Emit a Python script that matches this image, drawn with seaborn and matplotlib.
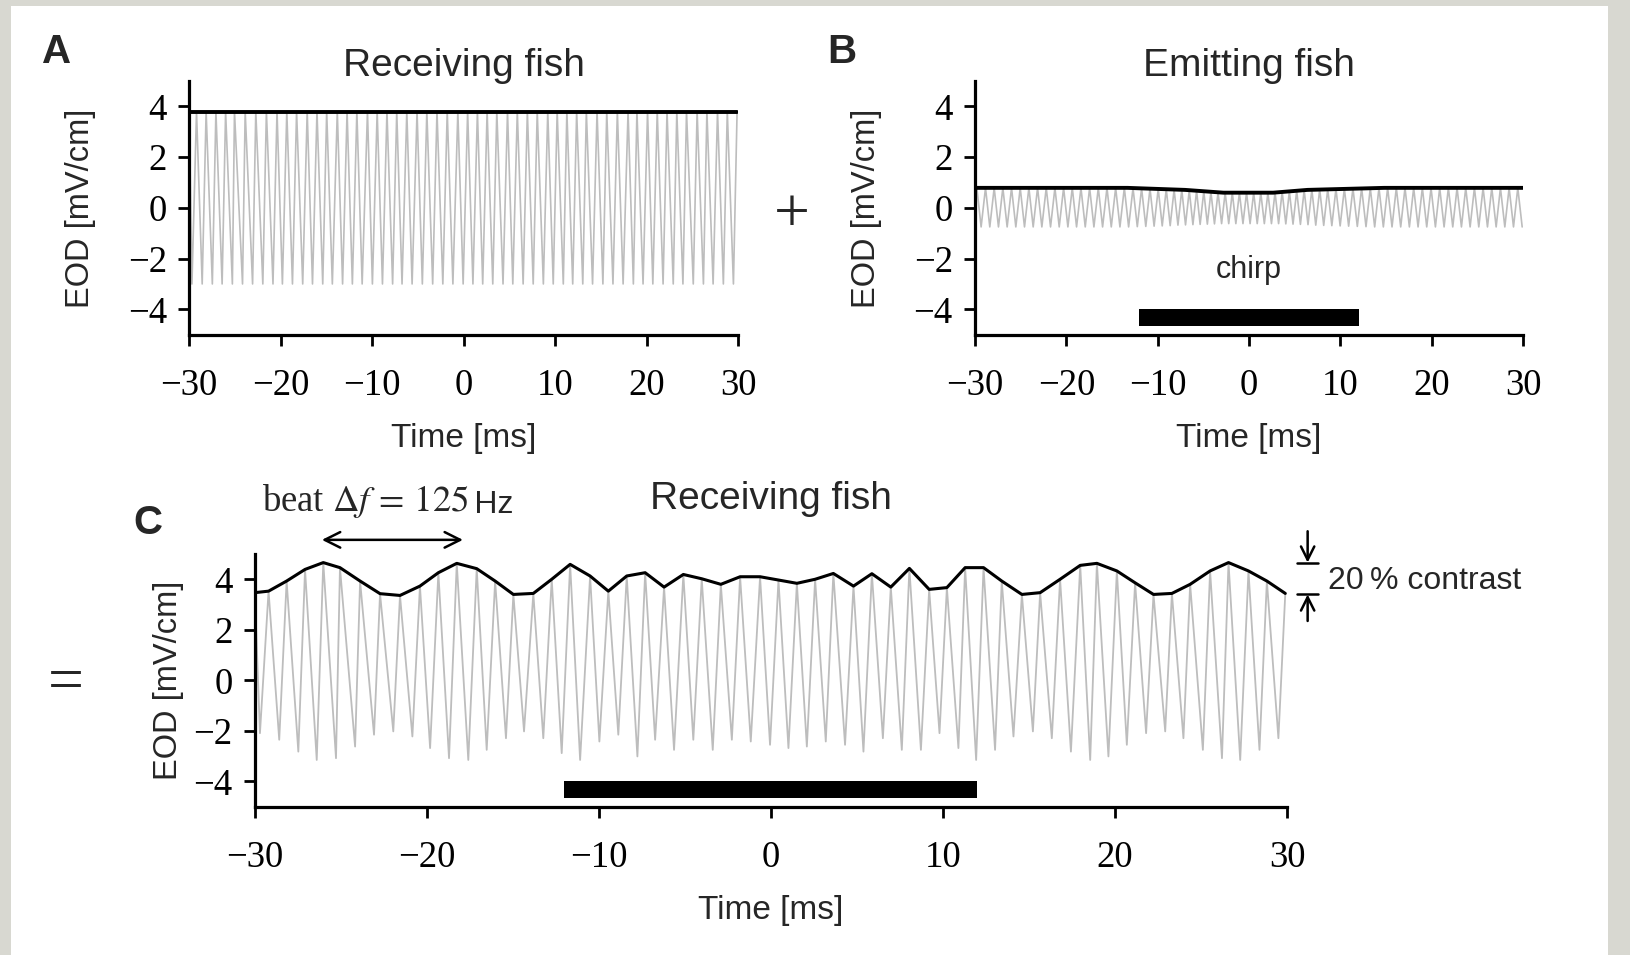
import numpy as np
import pandas as pd
import matplotlib
matplotlib.use("Agg")
import matplotlib.pyplot as plt
import seaborn as sns
from matplotlib.patches import Rectangle

# ------------------------------------------------------------------ data
# receiving fish EOD: times of the maxima and minima (ms)
recv_peak_t = [-30.0, -29.2, -28.15, -27.08, -26.02, -25.05, -23.88, -22.72, -21.56, -20.40,
               -19.33, -18.26, -17.10, -16.03, -14.97, -13.81, -12.74, -11.67, -10.51, -9.45,
               -8.38, -7.31, -6.21, -5.09, -4.02, -2.91, -1.79, -0.63, 0.44, 1.51,
               2.57, 3.63, 4.80, 5.87, 6.97, 8.05, 9.20, 10.23, 11.29, 12.36,
               13.42, 14.59, 15.65, 16.81, 17.98, 18.95, 20.11, 21.17, 22.24, 23.31,
               24.37, 25.53, 26.60, 27.76, 28.83, 29.90]
recv_trough_t = [-29.70, -28.58, -27.47, -26.40, -25.28, -24.17, -23.07, -21.95, -20.84, -19.81,
                 -18.71, -17.59, -16.52, -15.40, -14.35, -13.23, -12.16, -11.09, -9.97,
                 -8.87, -7.76, -6.73, -5.63, -4.51, -3.38, -2.27, -1.17, -0.05, 1.02,
                 2.09, 3.19, 4.31, 5.38, 6.51, 7.61, 8.72, 9.80, 10.90,
                 11.93, 13.03, 14.10, 15.23, 16.33, 17.44, 18.56, 19.62, 20.69, 21.81,
                 22.92, 23.98, 25.11, 26.22, 27.28, 28.40, 29.50]

# panel A: receiving fish alone (mV/cm)
a_peak_v = 3.8
a_trough_v = -3.0

# panel C: superposition, maxima (black envelope) and minima (mV/cm)
c_peak_v = [3.47, 3.53, 3.93, 4.39, 4.66, 4.46, 3.93, 3.43, 3.36, 3.73,
            4.26, 4.63, 4.42, 3.93, 3.40, 3.44, 4.00, 4.59, 4.13, 3.53,
            4.13, 4.26, 3.69, 4.19, 4.02, 3.80, 4.10, 4.10, 3.97, 3.84,
            4.00, 4.23, 3.73, 4.22, 3.69, 4.43, 3.60, 3.67, 4.46, 4.46,
            3.93, 3.40, 3.47, 4.00, 4.55, 4.63, 4.33, 3.86, 3.40, 3.44,
            3.80, 4.33, 4.66, 4.33, 3.93, 3.44]
c_trough_v = [-2.09, -2.35, -2.82, -3.15, -3.08, -2.62, -2.15, -2.02, -2.22, -2.68,
              -3.08, -3.15, -2.75, -2.29, -2.02, -2.29, -2.88, -3.15, -2.42,
              -2.15, -3.01, -2.35, -2.75, -2.35, -2.75, -2.35, -2.42, -2.55, -2.68,
              -2.62, -2.42, -2.55, -2.82, -2.29, -2.75, -2.75, -2.09, -2.68,
              -3.15, -2.75, -2.22, -2.02, -2.29, -2.82, -3.15, -3.01, -2.55, -2.09,
              -2.02, -2.29, -2.75, -3.08, -3.15, -2.75, -2.29]

# panel B: emitting fish with chirp
emit_peak_t = [-29.8, -28.85, -27.9, -26.95, -26.0, -25.05, -24.1, -23.15, -22.2, -21.25,
               -20.3, -19.35, -18.4, -17.45, -16.5, -15.55, -14.6, -13.65, -12.7, -11.76,
               -10.84, -9.94, -9.06, -8.20, -7.36, -6.54, -5.74, -4.95, -4.17, -3.39,
               -2.61, -1.83, -1.05, -0.27, 0.51, 1.29, 2.07, 2.85, 3.63, 4.42,
               5.22, 6.04, 6.88, 7.74, 8.62, 9.52, 10.44, 11.38, 12.33, 13.28,
               14.23, 15.18, 16.13, 17.08, 18.03, 18.98, 19.93, 20.88, 21.83, 22.78,
               23.73, 24.68, 25.63, 26.58, 27.53, 28.48, 29.43]
emit_peak_v = [0.79, 0.79, 0.79, 0.79, 0.79, 0.79, 0.79, 0.79, 0.79, 0.79,
               0.79, 0.79, 0.79, 0.79, 0.79, 0.79, 0.79, 0.79, 0.78, 0.77,
               0.76, 0.75, 0.74, 0.72, 0.71, 0.69, 0.67, 0.65, 0.63, 0.61,
               0.60, 0.60, 0.60, 0.60, 0.60, 0.60, 0.60, 0.61, 0.63, 0.65,
               0.67, 0.70, 0.72, 0.73, 0.74, 0.75, 0.76, 0.77, 0.78, 0.78,
               0.79, 0.79, 0.79, 0.79, 0.79, 0.79, 0.79, 0.79, 0.79, 0.79,
               0.79, 0.79, 0.79, 0.79, 0.79, 0.79, 0.79]
emit_trough_t = [-29.33, -28.38, -27.43, -26.48, -25.53, -24.58, -23.63, -22.68, -21.73, -20.78,
                 -19.83, -18.88, -17.93, -16.98, -16.03, -15.08, -14.13, -13.18, -12.23, -11.30,
                 -10.39, -9.50, -8.63, -7.78, -6.95, -6.14, -5.35, -4.56, -3.78, -3.00,
                 -2.22, -1.44, -0.66, 0.12, 0.90, 1.68, 2.46, 3.24, 4.03, 4.82,
                 5.63, 6.46, 7.31, 8.18, 9.07, 9.98, 10.91, 11.86, 12.81, 13.76,
                 14.71, 15.66, 16.61, 17.56, 18.51, 19.46, 20.41, 21.36, 22.31, 23.26,
                 24.21, 25.16, 26.11, 27.06, 28.01, 28.96, 29.91]
emit_trough_v = [-0.75, -0.75, -0.75, -0.75, -0.75, -0.75, -0.75, -0.75, -0.75, -0.75,
                 -0.75, -0.75, -0.75, -0.75, -0.75, -0.75, -0.75, -0.75, -0.74, -0.73,
                 -0.72, -0.71, -0.70, -0.68, -0.67, -0.66, -0.65, -0.64, -0.63, -0.62,
                 -0.62, -0.62, -0.62, -0.62, -0.62, -0.62, -0.62, -0.62, -0.63, -0.64,
                 -0.65, -0.66, -0.68, -0.69, -0.70, -0.71, -0.72, -0.73, -0.74, -0.75,
                 -0.75, -0.75, -0.75, -0.75, -0.75, -0.75, -0.75, -0.75, -0.75, -0.75,
                 -0.75, -0.75, -0.75, -0.75, -0.75, -0.75, -0.75]
emit_env_t = [-30.0, -13.3, -7.0, -2.8, 2.65, 6.4, 14.8, 30.0]
emit_env_v = [0.79, 0.79, 0.71, 0.60, 0.60, 0.71, 0.79, 0.79]

chirp_span = [-12.0, 12.0]          # ms
chirp_bar_y = [-4.65, -4.0]         # mV/cm
beat_span = [-26.1, -17.9]          # ms, one beat period
contrast_levels = [4.66, 3.40]      # beat maximum / minimum

x_ticks = [-30, -20, -10, 0, 10, 20, 30]
y_ticks = [-4, -2, 0, 2, 4]

# ------------------------------------------------------------------ style
sns.set_theme(style="ticks")
plt.rcParams["font.family"] = ["Liberation Sans", "DejaVu Sans"]
plt.rcParams["mathtext.fontset"] = "stix"
plt.rcParams["axes.unicode_minus"] = True

W, H = 1630, 955
fig = plt.figure(figsize=(W / 100, H / 100), dpi=100, facecolor="#d8d8d1")
fig.patches.append(Rectangle((10.5 / W, 0), (1608 - 10.5) / W, 1 - 6 / H,
                             transform=fig.transFigure, facecolor="white",
                             edgecolor="none", zorder=-10))

GREY = "#bdbdbd"
SERIF = ["Liberation Serif", "DejaVu Serif"]
SANS = ["Liberation Sans", "DejaVu Sans"]


def frac(x0, y0, x1, y1):
    return [x0 / W, 1 - y1 / H, (x1 - x0) / W, (y1 - y0) / H]


ax_a = fig.add_axes(frac(189.2, 81.1, 738.0, 334.7))
ax_b = fig.add_axes(frac(975.0, 81.1, 1523.0, 334.7))
ax_c = fig.add_axes(frac(254.8, 554.0, 1287.0, 806.7))


def zigzag(pt, pv, tt, tv):
    d1 = pd.DataFrame({"t": pt, "v": pv})
    d2 = pd.DataFrame({"t": tt, "v": tv})
    return pd.concat([d1, d2]).sort_values("t").reset_index(drop=True)


def style(ax, labelpad_y):
    ax.set_facecolor("none")
    ax.set_xlim(-30, 30)
    ax.set_ylim(-5, 5)
    sns.despine(ax=ax)
    for s in ("left", "bottom"):
        ax.spines[s].set_linewidth(2.3)
        ax.spines[s].set_color("black")
    ax.set_xticks(x_ticks)
    ax.set_yticks(y_ticks)
    ax.tick_params(direction="out", length=8, width=2.0, labelsize=26.5,
                   colors="black")
    ax.tick_params(axis="y", pad=8)
    ax.tick_params(axis="x", pad=16)
    for lab in ax.get_xticklabels() + ax.get_yticklabels():
        lab.set_family(SERIF)
    ax.set_xlabel("Time [ms]", fontsize=24, family=SANS, labelpad=15)
    ax.set_ylabel("EOD [mV/cm]", fontsize=23.5, family=SANS, labelpad=labelpad_y)
    ax.grid(False)


# ---- panel A
df_a = zigzag(recv_peak_t, [a_peak_v] * len(recv_peak_t),
              recv_trough_t, [a_trough_v] * len(recv_trough_t))
sns.lineplot(data=df_a, x="t", y="v", ax=ax_a, color=GREY, lw=1.2,
             estimator=None, sort=True)
env_a = pd.DataFrame({"t": recv_peak_t, "v": [a_peak_v] * len(recv_peak_t)})
sns.lineplot(data=env_a, x="t", y="v", ax=ax_a, color="black", lw=2.8,
             estimator=None)
style(ax_a, 23)

# ---- panel B
df_b = zigzag(emit_peak_t, emit_peak_v, emit_trough_t, emit_trough_v)
sns.lineplot(data=df_b, x="t", y="v", ax=ax_b, color=GREY, lw=1.2,
             estimator=None, sort=True)
env_b = pd.DataFrame({"t": emit_env_t, "v": emit_env_v})
sns.lineplot(data=env_b, x="t", y="v", ax=ax_b, color="black", lw=2.8,
             estimator=None)
ax_b.fill_between(chirp_span, chirp_bar_y[0], chirp_bar_y[1], color="black", lw=0)
ax_b.text(np.mean(chirp_span), -2.45, "chirp", ha="center", va="center",
          fontsize=22, family=SANS)
style(ax_b, 23)

# ---- panel C
df_c = zigzag(recv_peak_t, c_peak_v, recv_trough_t, c_trough_v)
sns.lineplot(data=df_c, x="t", y="v", ax=ax_c, color=GREY, lw=1.3,
             estimator=None, sort=True)
env_c = pd.DataFrame({"t": recv_peak_t, "v": c_peak_v})
sns.lineplot(data=env_c, x="t", y="v", ax=ax_c, color="black", lw=2.2,
             estimator=None)
ax_c.fill_between(chirp_span, -4.67, -4.0, color="black", lw=0)
style(ax_c, 7)

# beat annotation
ax_c.annotate("", xy=(beat_span[1], 5.56), xytext=(beat_span[0], 5.56),
              arrowprops=dict(arrowstyle="<->", lw=1.8, color="black",
                              mutation_scale=28, shrinkA=0, shrinkB=0),
              annotation_clip=False)
t_beat = ax_c.text(-29.6, 7.1, r"beat $\Delta f\,=\,125$", ha="left", va="center",
                   fontsize=26.5, family=SERIF, clip_on=False)
ax_c.annotate("\u2009Hz", xy=(1, 0), xycoords=t_beat, ha="left", va="bottom",
              fontsize=23, family=SANS, annotation_clip=False)

# contrast annotation
xc = 31.2
ax_c.annotate("", xy=(xc, contrast_levels[0]), xytext=(xc, 5.9),
              arrowprops=dict(arrowstyle="->", lw=1.8, color="black",
                              mutation_scale=24, shrinkA=0, shrinkB=0),
              annotation_clip=False)
ax_c.annotate("", xy=(xc, contrast_levels[1]), xytext=(xc, 2.35),
              arrowprops=dict(arrowstyle="->", lw=1.8, color="black",
                              mutation_scale=24, shrinkA=0, shrinkB=0),
              annotation_clip=False)
for lv in contrast_levels:
    ax_c.plot([xc - 0.6, xc + 0.6], [lv, lv], color="black", lw=1.8, clip_on=False)
ax_c.text(32.4, 3.95, "20\u2009% contrast", ha="left", va="center",
          fontsize=23, family=SANS, clip_on=False)

# titles, panel letters, operators
fig.text((189.2 + 738.0) / 2 / W, 1 - 76 / H, "Receiving fish", ha="center",
         va="baseline", fontsize=28, family=SANS)
fig.text((975.0 + 1523.0) / 2 / W, 1 - 76 / H, "Emitting fish", ha="center",
         va="baseline", fontsize=28, family=SANS)
fig.text((254.8 + 1287.0) / 2 / W, 1 - 509 / H, "Receiving fish", ha="center",
         va="baseline", fontsize=28, family=SANS)
for lbl, x, y in (("A", 57, 52), ("B", 842, 52), ("C", 148, 523)):
    fig.text(x / W, 1 - y / H, lbl, ha="center", va="center", fontsize=29,
             fontweight="bold", family=SANS)
fig.text(792 / W, 1 - 217 / H, "+", ha="center", va="center", fontsize=46,
         family=SERIF, fontweight="light")
fig.text(65.5 / W, 1 - 685 / H, "=", ha="center", va="center", fontsize=46,
         family=SERIF)

fig.savefig("out.png", dpi=100, facecolor=fig.get_facecolor())
